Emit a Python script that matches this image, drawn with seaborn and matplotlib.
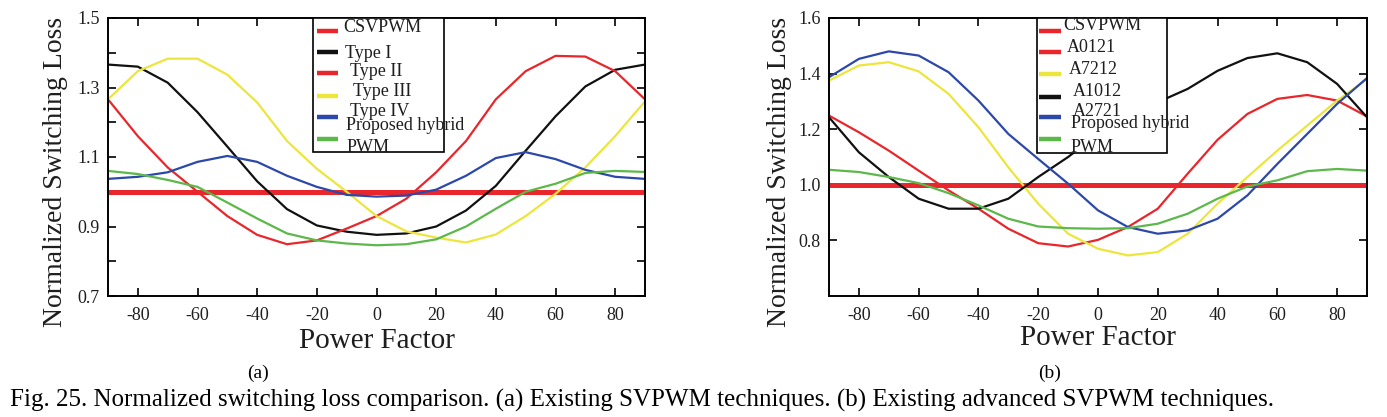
import numpy as np
import pandas as pd
import matplotlib
matplotlib.use("Agg")
import matplotlib.pyplot as plt
import seaborn as sns
from matplotlib.patches import Rectangle
from matplotlib.lines import Line2D

# ---------------- data ----------------
power_factor = [-90, -80, -70, -60, -50, -40, -30, -20, -10, 0,
                10, 20, 30, 40, 50, 60, 70, 80, 90]

# panel (a): existing SVPWM techniques
csvpwm_a = [1.00, 1.00, 1.00, 1.00, 1.00, 1.00, 1.00, 1.00, 1.00, 1.00,
            1.00, 1.00, 1.00, 1.00, 1.00, 1.00, 1.00, 1.00, 1.00]
type_1 = [1.366, 1.360, 1.314, 1.229, 1.130, 1.030, 0.950, 0.903, 0.885, 0.876,
          0.880, 0.900, 0.946, 1.017, 1.118, 1.217, 1.303, 1.351, 1.366]
type_2 = [1.266, 1.160, 1.070, 1.000, 0.930, 0.876, 0.849, 0.860, 0.894, 0.930,
          0.980, 1.056, 1.146, 1.266, 1.347, 1.391, 1.389, 1.347, 1.266]
type_3 = [1.266, 1.347, 1.383, 1.383, 1.337, 1.257, 1.146, 1.066, 1.000, 0.930,
          0.886, 0.868, 0.854, 0.877, 0.930, 0.994, 1.070, 1.160, 1.260]
type_4 = [1.037, 1.043, 1.056, 1.086, 1.103, 1.086, 1.046, 1.014, 0.991, 0.986,
          0.989, 1.006, 1.046, 1.097, 1.114, 1.094, 1.063, 1.043, 1.037]
hybrid_a = [1.060, 1.051, 1.034, 1.014, 0.969, 0.923, 0.880, 0.860, 0.851, 0.846,
            0.849, 0.863, 0.900, 0.951, 1.000, 1.023, 1.054, 1.060, 1.057]

# panel (b): existing advanced SVPWM techniques
csvpwm_b = [1.00, 1.00, 1.00, 1.00, 1.00, 1.00, 1.00, 1.00, 1.00, 1.00,
            1.00, 1.00, 1.00, 1.00, 1.00, 1.00, 1.00, 1.00, 1.00]
a0121 = [1.249, 1.189, 1.123, 1.051, 0.980, 0.914, 0.842, 0.790, 0.778, 0.802,
         0.848, 0.914, 1.040, 1.162, 1.255, 1.309, 1.323, 1.303, 1.246]
a7212 = [1.375, 1.429, 1.441, 1.408, 1.327, 1.207, 1.063, 0.932, 0.824, 0.770,
         0.746, 0.758, 0.824, 0.932, 1.028, 1.123, 1.213, 1.303, 1.380]
a1012 = [1.243, 1.117, 1.028, 0.950, 0.914, 0.914, 0.950, 1.028, 1.100, 1.183,
         1.250, 1.297, 1.345, 1.410, 1.456, 1.473, 1.441, 1.363, 1.243]
a2721 = [1.387, 1.453, 1.480, 1.465, 1.405, 1.303, 1.183, 1.093, 1.004, 0.908,
         0.848, 0.824, 0.836, 0.878, 0.962, 1.075, 1.183, 1.291, 1.384]
hybrid_b = [1.054, 1.046, 1.028, 1.006, 0.970, 0.926, 0.878, 0.850, 0.844, 0.842,
            0.844, 0.860, 0.896, 0.950, 0.994, 1.016, 1.049, 1.057, 1.051]

xticks = [-80, -60, -40, -20, 0, 20, 40, 60, 80]
yticks_a = [0.7, 0.8, 0.9, 1.0, 1.1, 1.2, 1.3, 1.4, 1.5]
ylabels_a = ["0.7", "", "0.9", "", "1.1", "", "1.3", "", "1.5"]
yticks_b = [0.8, 1.0, 1.2, 1.4, 1.6]
ylabels_b = ["0.8", "1.0", "1.2", "1.4", "1.6"]

RED = "#e8262b"
BLACK = "#111111"
YELLOW = "#ece63c"
BLUE = "#2c48a8"
GREEN = "#5cb84a"

# ---------------- style ----------------
sns.set_theme(style="ticks")
plt.rcParams["font.family"] = ["Liberation Serif", "DejaVu Serif"]
plt.rcParams["axes.unicode_minus"] = False
TXT = "#1e1e1e"

W, H = 1387, 417
fig = plt.figure(figsize=(W / 100, H / 100), dpi=100)
fig.patch.set_facecolor("white")

axA = fig.add_axes([108 / W, 1 - 296 / H, 537 / W, 278 / H])
axB = fig.add_axes([829 / W, 1 - 296 / H, 538 / W, 278 / H])


def plot_panel(ax, series):
    for vals, color, lw in series:
        sns.lineplot(x=power_factor, y=vals, ax=ax, color=color,
                     linewidth=lw, legend=False)


plot_panel(axA, [(csvpwm_a, RED, 3.6), (type_1, BLACK, 1.6), (type_2, RED, 1.6),
                 (type_3, YELLOW, 1.6), (type_4, BLUE, 1.6), (hybrid_a, GREEN, 1.6)])
plot_panel(axB, [(csvpwm_b, RED, 3.6), (a0121, RED, 1.6), (a7212, YELLOW, 1.6),
                 (a1012, BLACK, 1.6), (a2721, BLUE, 1.6), (hybrid_b, GREEN, 1.6)])

for ax, yt, yl, ylim in [(axA, yticks_a, ylabels_a, (0.7, 1.5)),
                         (axB, yticks_b, ylabels_b, (0.6, 1.6))]:
    ax.set_xlim(-90, 90)
    ax.set_ylim(*ylim)
    ax.set_xticks(xticks, labels=[str(v) for v in xticks])
    ax.set_yticks(yt, labels=yl)
    ax.tick_params(direction="in", top=True, right=True, length=6, width=1.2,
                   labelsize=13, labelcolor=TXT, color="black")
    ax.tick_params(axis="x", pad=8)
    ax.tick_params(axis="y", pad=6)
    for s in ax.spines.values():
        s.set_color("black")
        s.set_linewidth(1.4)
    ax.set_xlabel("Power Factor", fontsize=21, color=TXT)
    ax.set_ylabel("Normalized Switching Loss", fontsize=20, color=TXT)
    ax.xaxis.label.set_va("center")
    ax.yaxis.label.set_va("center")

axA.xaxis.set_label_coords(0.5, -0.162)
axB.xaxis.set_label_coords(0.5, -0.152)
axA.yaxis.set_label_coords((56 - 108) / 537, (296 - 172) / 278)
axB.yaxis.set_label_coords((780 - 829) / 538, (296 - 172) / 278)


def draw_legend(ax, left_px, width_px, box, handles, labels):
    fx = lambda px: (px - left_px) / width_px
    fy = lambda py: (296 - py) / 278
    x0, x1, ytop, ybot = box
    rect = Rectangle((fx(x0), fy(ybot)), fx(x1) - fx(x0), fy(ytop) - fy(ybot),
                     transform=ax.transAxes, facecolor="white", edgecolor="black",
                     linewidth=1.2, zorder=5)
    ax.add_patch(rect)
    clip = Rectangle((fx(x0), fy(ybot)), 2.0, 1.0, transform=ax.transAxes,
                     facecolor="none", edgecolor="none")
    ax.add_patch(clip)
    hx0, hx1 = handles[0]
    for hy, color in handles[1]:
        ax.add_line(Line2D([fx(hx0), fx(hx1)], [fy(hy), fy(hy)],
                           transform=ax.transAxes, color=color, linewidth=3.2,
                           zorder=6, solid_capstyle="butt"))
    for tx, ty, s in labels:
        t = ax.text(fx(tx), fy(ty), s, transform=ax.transAxes, ha="left",
                    va="center", fontsize=13, color=TXT, zorder=7)
        t.set_clip_path(clip)


draw_legend(axA, 108, 537, (313, 444, 18, 152),
            ((317, 338), [(31, RED), (52, BLACK), (73, RED), (96, YELLOW),
                          (117, BLUE), (139, GREEN)]),
            [(343, 27, "CSVPWM"), (345, 53, "Type I"), (350, 72, "Type II"),
             (353, 92, "Type III"), (350, 112, "Type IV"),
             (346, 126, "Proposed hybrid"), (347, 148, "PWM")])

draw_legend(axB, 829, 538, (1037, 1167, 18, 153),
            ((1039, 1061), [(31, RED), (52, RED), (74, YELLOW), (97, BLACK),
                            (117, BLUE), (139, GREEN)]),
            [(1063, 25, "CSVPWM"), (1067, 47, "A0121"), (1069, 69, "A7212"),
             (1073, 91, "A1012"), (1073, 111, "A2721"),
             (1071, 124, "Proposed hybrid"), (1071, 148, "PWM")])

fig.text(258 / W, 1 - 373 / H, "(a)", ha="center", va="center", fontsize=14, color="black")
fig.text(1050 / W, 1 - 373 / H, "(b)", ha="center", va="center", fontsize=14, color="black")
fig.text(10 / W, 1 - 400 / H,
         "Fig. 25. Normalized switching loss comparison. (a) Existing SVPWM techniques. "
         "(b) Existing advanced SVPWM techniques.",
         ha="left", va="center", fontsize=18, color="black")

fig.savefig("out.png", dpi=100, facecolor="white")
